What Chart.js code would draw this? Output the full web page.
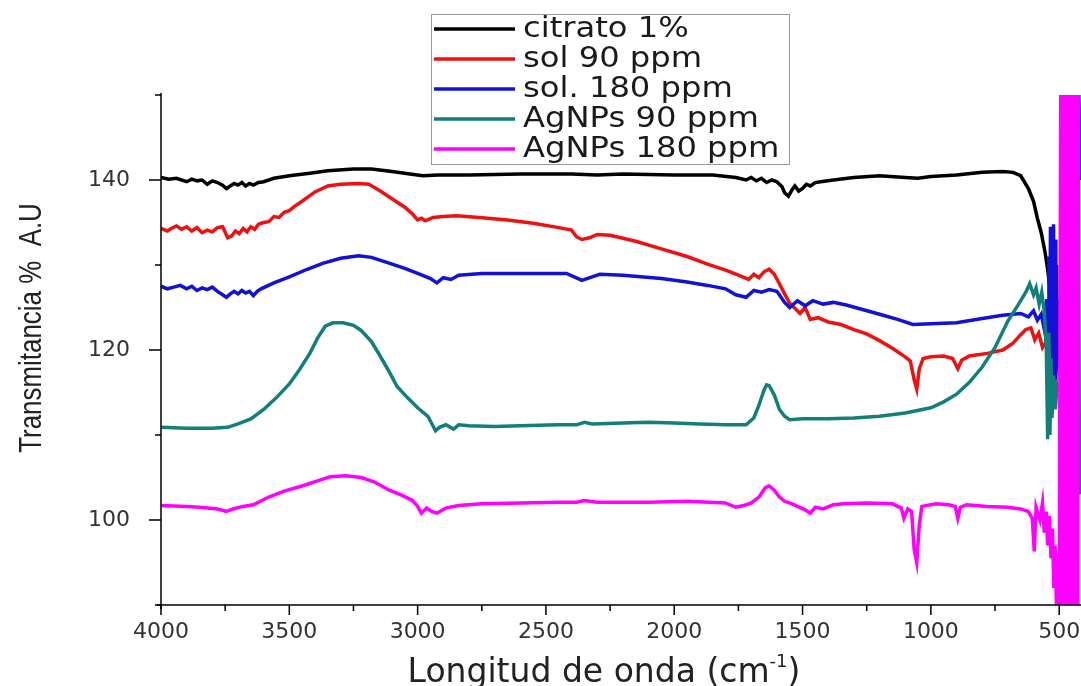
<!DOCTYPE html>
<html lang="es">
<head>
<meta charset="utf-8">
<title>FTIR - AgNPs</title>
<script src="https://cdn.jsdelivr.net/npm/chart.js@4.4.1/dist/chart.umd.min.js"></script>
<style>
  html, body { margin: 0; padding: 0; background: #fff; overflow: hidden; }
  #wrap { position: relative; width: 1081px; height: 686px; }
</style>
</head>
<body>
<div id="wrap"><canvas id="ftirChart" width="1081" height="686"></canvas></div>
<script>
// ===== SPECTRA [wavenumber cm-1, transmittance] =====
const citrato = [
  [4000,140.3],[3970,140.1],[3940,140.2],[3900,139.8],[3880,140.1],[3860,139.9],[3840,140.0],[3820,139.5],
  [3800,139.9],[3780,139.7],[3760,139.4],[3745,139.0],[3730,139.3],[3715,139.6],[3700,139.4],[3685,139.7],
  [3670,139.3],[3655,139.6],[3640,139.4],[3620,139.7],[3600,139.8],[3560,140.2],[3500,140.5],[3420,140.8],
  [3350,141.1],[3250,141.3],[3180,141.3],[3100,141.0],[3030,140.7],[2980,140.5],[2920,140.6],[2800,140.6],
  [2600,140.7],[2400,140.7],[2300,140.6],[2200,140.7],[2000,140.6],[1850,140.6],[1760,140.3],[1720,140.0],
  [1700,140.3],[1680,139.9],[1660,140.2],[1640,139.7],[1620,140.0],[1600,139.8],[1580,139.2],[1570,138.5],
  [1555,138.1],[1540,138.9],[1530,139.3],[1515,138.7],[1500,139.0],[1485,139.5],[1470,139.3],[1450,139.7],
  [1430,139.8],[1380,140.0],[1300,140.3],[1200,140.5],[1100,140.3],[1050,140.2],[1000,140.4],[900,140.6],
  [800,140.9],[720,141.0],[680,140.9],[650,140.5],[620,139.0],[600,137.5],[585,135.5],[570,133.8],
  [555,131.5],[545,129.5],[535,127.0],[525,124.0],[515,121.0],[505,118.0]
];

const sol90 = [
  [4000,134.3],[3975,134.0],[3960,134.3],[3940,134.6],[3920,134.2],[3900,134.5],[3880,134.0],[3860,134.4],
  [3840,133.8],[3820,134.1],[3800,133.9],[3780,134.4],[3760,134.5],[3740,133.2],[3725,133.4],[3710,134.0],
  [3695,133.7],[3680,134.3],[3665,133.9],[3650,134.5],[3635,134.2],[3620,134.8],[3600,135.0],[3580,135.1],
  [3560,135.7],[3540,135.6],[3520,136.2],[3500,136.4],[3480,136.9],[3450,137.5],[3400,138.6],[3350,139.3],
  [3300,139.5],[3230,139.6],[3190,139.5],[3150,138.8],[3100,137.8],[3050,136.8],[3020,136.0],[3000,135.3],
  [2985,135.5],[2970,135.2],[2940,135.6],[2900,135.7],[2850,135.8],[2760,135.6],[2650,135.3],[2550,134.9],
  [2450,134.4],[2400,134.1],[2380,133.3],[2360,133.0],[2330,133.2],[2300,133.6],[2250,133.5],[2150,132.8],
  [2050,131.9],[1950,131.0],[1870,130.1],[1800,129.4],[1750,128.8],[1710,128.3],[1690,128.9],[1670,128.5],
  [1650,129.2],[1630,129.5],[1610,128.9],[1590,127.8],[1570,126.6],[1550,125.5],[1530,124.9],[1510,124.3],
  [1490,125.0],[1470,123.6],[1440,123.8],[1400,123.3],[1350,123.0],[1300,122.4],[1250,121.9],[1200,121.1],
  [1150,120.2],[1100,119.2],[1080,118.7],[1065,116.5],[1055,115.4],[1045,117.8],[1030,119.0],[1000,119.2],
  [950,119.3],[915,119.0],[895,117.8],[880,118.8],[850,119.3],[780,119.6],[720,120.0],[680,120.8],
  [650,121.8],[630,122.4],[610,122.6],[595,121.2],[580,122.0],[565,120.3],[550,121.0],[535,119.5],
  [520,120.5],[505,118.5],[470,112.0],[425,108.0],[418,104.0]
];

const sol180 = [
  [4000,127.5],[3975,127.2],[3950,127.4],[3925,127.6],[3900,127.2],[3880,127.5],[3860,127.0],[3840,127.3],
  [3820,127.1],[3800,127.4],[3780,126.9],[3760,126.5],[3745,126.2],[3730,126.6],[3715,126.9],[3700,126.6],
  [3685,127.0],[3670,126.7],[3655,126.9],[3640,126.4],[3625,126.9],[3610,127.2],[3560,127.9],[3500,128.6],
  [3430,129.5],[3370,130.2],[3300,130.8],[3230,131.1],[3180,130.9],[3120,130.3],[3050,129.6],[2990,128.9],
  [2950,128.4],[2925,127.9],[2900,128.5],[2870,128.3],[2840,128.8],[2750,129.0],[2600,129.0],[2420,129.0],
  [2390,128.6],[2360,128.2],[2320,128.6],[2290,128.9],[2200,128.8],[2050,128.4],[1950,128.0],[1870,127.6],
  [1800,127.2],[1760,126.5],[1720,126.2],[1690,127.0],[1660,126.8],[1630,127.1],[1600,126.9],[1570,125.6],
  [1550,125.0],[1520,125.8],[1490,125.2],[1460,125.8],[1420,125.4],[1380,125.6],[1330,125.3],[1270,124.8],
  [1200,124.2],[1130,123.6],[1070,123.0],[1000,123.1],[900,123.2],[800,123.7],[720,124.1],[650,124.3],
  [620,123.9],[600,124.6],[585,123.5],[570,124.2],[555,122.0],[548,126.0],[543,118.0],[540,131.0],
  [537,116.0],[534,134.5],[531,115.0],[528,133.0],[525,114.5],[522,134.8],[519,114.0],[516,133.0],
  [513,116.0],[510,130.0],[507,118.0],[503,126.0],[498,120.0],[460,128.0],[430,135.0],[424,151.0],
  [418,140.0]
];

const agnps90 = [
  [4000,110.9],[3900,110.8],[3800,110.8],[3740,110.9],[3700,111.3],[3650,111.9],[3600,113.0],[3550,114.4],
  [3500,116.0],[3460,117.7],[3420,119.6],[3390,121.4],[3360,122.8],[3330,123.2],[3290,123.2],[3250,122.9],
  [3220,122.3],[3180,121.0],[3150,119.5],[3110,117.4],[3080,115.7],[3040,114.4],[3000,113.2],[2960,112.2],
  [2930,110.5],[2915,110.9],[2890,111.2],[2860,110.7],[2840,111.2],[2800,111.1],[2700,111.0],[2600,111.1],
  [2450,111.2],[2380,111.2],[2350,111.5],[2320,111.3],[2200,111.4],[2100,111.5],[2000,111.4],[1900,111.3],
  [1800,111.2],[1720,111.2],[1690,112.0],[1670,113.5],[1650,115.3],[1640,115.9],[1630,115.8],[1610,114.7],
  [1590,113.0],[1570,112.2],[1550,111.8],[1500,111.9],[1400,111.9],[1300,112.0],[1200,112.2],[1100,112.6],
  [1000,113.2],[950,113.9],[900,114.8],[850,116.2],[800,118.0],[750,120.3],[700,123.4],[660,125.3],
  [630,126.8],[615,127.8],[600,126.5],[590,127.3],[578,125.4],[568,126.8],[558,124.5],[550,120.0],
  [545,109.5],[540,122.0],[536,110.0],[532,119.0],[528,112.0],[522,117.0],[515,113.0],[508,116.0],
  [470,114.0],[432,114.0],[426,152.0],[421,104.0],[416,103.0]
];

const agnps180 = [
  [4000,101.7],[3900,101.6],[3850,101.5],[3780,101.3],[3745,101.0],[3720,101.3],[3680,101.6],[3640,101.8],
  [3580,102.7],[3520,103.4],[3450,104.0],[3390,104.6],[3340,105.1],[3280,105.2],[3220,105.0],[3170,104.5],
  [3110,103.5],[3060,102.9],[3020,102.3],[3000,101.6],[2985,100.8],[2965,101.4],[2945,101.0],[2925,100.8],
  [2890,101.4],[2840,101.7],[2750,101.9],[2600,102.0],[2450,102.1],[2380,102.1],[2350,102.3],[2300,102.1],
  [2100,102.1],[1950,102.2],[1800,102.0],[1760,101.5],[1730,101.7],[1700,102.0],[1670,102.7],[1645,103.8],
  [1630,104.0],[1610,103.5],[1590,102.7],[1570,102.2],[1540,101.9],[1520,101.6],[1490,101.2],[1470,100.8],
  [1450,101.5],[1420,101.3],[1380,101.8],[1340,101.9],[1250,102.0],[1150,101.9],[1115,101.4],[1105,100.2],
  [1090,101.3],[1075,101.0],[1065,96.5],[1055,95.0],[1045,99.5],[1035,101.6],[980,101.9],[930,101.8],
  [905,101.6],[895,100.2],[885,101.5],[860,101.8],[780,101.6],[700,101.5],[650,101.3],[620,101.0],
  [605,100.2],[597,96.3],[590,101.5],[575,100.0],[565,102.0],[558,98.5],[550,101.0],[545,97.0],
  [538,100.5],[532,95.5],[526,99.0],[521,92.0],[516,97.0],[510,89.0],[505,96.0],[500,89.0],
  [494,151],[490,89],[486,151],[482,89],[478,151],[474,89],[470,151],[466,89],
  [462,151],[458,89],[454,151],[450,89],[446,151],[442,89],[438,151],[434,89],
  [431,151],[428,89],[427,151]
];

const seriesLabels = ["citrato 1%", "sol 90 ppm", "sol. 180 ppm", "AgNPs 90 ppm", "AgNPs 180 ppm"];
const seriesData = [citrato, sol90, sol180, agnps90, agnps180];
const seriesColors = ["#000000", "#ee1111", "#1212d6", "#137f7a", "#ff00ff"];

const xMin = 415, xMax = 4000, xStep = 250;
const yMin = 90, yMax = 150;

Chart.defaults.font.family = "'DejaVu Sans', sans-serif";
Chart.defaults.color = "#333";

// ===== AXES: lines, major/minor ticks, titles =====
const axesPlugin = {
  id: "axesPlugin",
  afterDraw(chart) {
    const { ctx, chartArea: a, scales: { x, y } } = chart;
    ctx.save();
    ctx.strokeStyle = "#000";
    ctx.lineWidth = 1.5;

    ctx.beginPath();
    ctx.moveTo(a.left, a.top - 2);
    ctx.lineTo(a.left, a.bottom + 4);
    ctx.moveTo(a.left - 4, a.bottom);
    ctx.lineTo(a.right, a.bottom);
    ctx.stroke();

    ctx.beginPath();
    x.ticks.forEach(t => {
      const px = x.getPixelForValue(t.value);
      const len = t.value % 500 === 0 ? 10 : 6;
      ctx.moveTo(px, a.bottom);
      ctx.lineTo(px, a.bottom + len);
    });
    y.ticks.forEach(t => {
      const py = y.getPixelForValue(t.value);
      const len = t.value % 20 === 0 ? 12 : 6;
      ctx.moveTo(a.left, py);
      ctx.lineTo(a.left - len, py);
    });
    ctx.stroke();

    // x title with superscript
    ctx.fillStyle = "#222";
    ctx.textBaseline = "alphabetic";
    const main = "Longitud de onda (cm";
    const sup = "-1";
    const close = ")";
    const bigFont = "33px 'DejaVu Sans', sans-serif";
    const supFont = "18px 'DejaVu Sans', sans-serif";
    ctx.font = bigFont;
    const wMain = ctx.measureText(main).width;
    const wClose = ctx.measureText(close).width;
    ctx.font = supFont;
    const wSup = ctx.measureText(sup).width;
    let tx = 604 - (wMain + wSup + wClose) / 2;
    const ty = 682;
    ctx.textAlign = "left";
    ctx.font = bigFont;
    ctx.fillText(main, tx, ty);
    tx += wMain;
    ctx.font = supFont;
    ctx.fillText(sup, tx, ty - 15);
    tx += wSup;
    ctx.font = bigFont;
    ctx.fillText(close, tx, ty);

    // y title, condensed along its length
    ctx.save();
    ctx.translate(41, 328);
    ctx.rotate(-Math.PI / 2);
    ctx.scale(0.81, 1);
    ctx.textAlign = "center";
    ctx.font = "32px 'Liberation Sans', Arial, sans-serif";
    ctx.fillText("Transmitancia %  A.U", 0, 0);
    ctx.restore();

    ctx.restore();
  }
};

// ===== LEGEND BOX =====
const legendPlugin = {
  id: "legendPlugin",
  afterDraw(chart) {
    const { ctx } = chart;
    const box = { left: 431, top: 14, right: 789, bottom: 164 };
    ctx.save();
    ctx.fillStyle = "#fff";
    ctx.fillRect(box.left, box.top, box.right - box.left, box.bottom - box.top);
    ctx.strokeStyle = "#9a9a9a";
    ctx.lineWidth = 1;
    ctx.strokeRect(box.left + 0.5, box.top + 0.5, box.right - box.left, box.bottom - box.top);

    chart.data.datasets.forEach((ds, i) => {
      const rowY = 29 + i * 30;
      ctx.strokeStyle = ds.borderColor;
      ctx.lineWidth = 3.5;
      ctx.beginPath();
      ctx.moveTo(434, rowY);
      ctx.lineTo(515, rowY);
      ctx.stroke();

      ctx.save();
      ctx.translate(523, rowY + 1);
      ctx.scale(1.15, 1);
      ctx.fillStyle = "#1a1a1a";
      ctx.font = "28px 'DejaVu Sans', sans-serif";
      ctx.textAlign = "left";
      ctx.textBaseline = "middle";
      ctx.fillText(ds.label, 0, 0);
      ctx.restore();
    });
    ctx.restore();
  }
};

const datasets = seriesData.map((pts, i) => ({
  label: seriesLabels[i],
  data: pts.map(p => ({ x: p[0], y: p[1] })),
  borderColor: seriesColors[i],
  backgroundColor: seriesColors[i],
  borderWidth: 3.5,
  pointRadius: 0,
  showLine: true,
  tension: 0,
  order: seriesData.length - i
}));

new Chart(document.getElementById("ftirChart"), {
  type: "scatter",
  data: { datasets },
  options: {
    responsive: false,
    animation: false,
    events: [],
    layout: { padding: { top: 95, right: 0, left: 0, bottom: 0 } },
    plugins: {
      legend: { display: false },
      tooltip: { enabled: false }
    },
    scales: {
      x: {
        type: "linear",
        reverse: true,
        min: xMin,
        max: xMax,
        grid: { display: false, drawTicks: false },
        border: { display: false },
        // ticks every 250 cm-1, labelled every 500
        afterBuildTicks: s => {
          const ticks = [];
          for (let v = Math.ceil(xMin / xStep) * xStep; v <= xMax; v += xStep) ticks.push({ value: v });
          s.ticks = ticks;
        },
        afterFit: s => { s.height = 81; },
        ticks: {
          autoSkip: false,
          maxRotation: 0,
          padding: 14,
          font: { size: 22 },
          color: "#333",
          callback: v => (v % 500 === 0 ? String(v) : "")
        }
      },
      y: {
        min: yMin,
        max: yMax,
        grid: { display: false, drawTicks: false },
        border: { display: false },
        afterFit: s => { s.width = 161; },
        ticks: {
          stepSize: 10,
          autoSkip: false,
          padding: 31,
          font: { size: 22 },
          color: "#333",
          callback: v => (v % 20 === 0 ? String(v) : "")
        }
      }
    }
  },
  plugins: [axesPlugin, legendPlugin]
});
</script>
</body>
</html>
